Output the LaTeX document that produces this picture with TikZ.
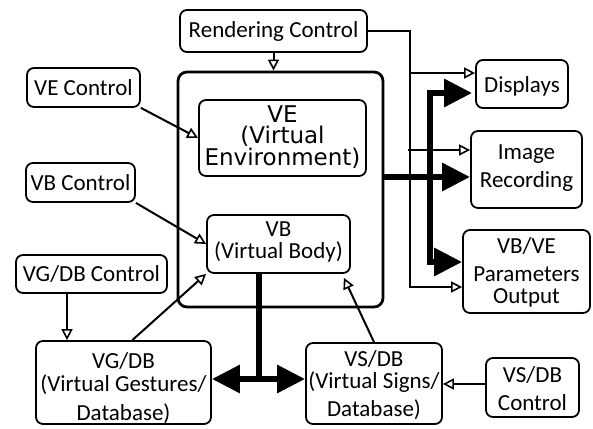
\documentclass[tikz,border=0pt]{standalone}
\usepackage{fontspec}
\setmainfont{Carlito}
\newfontfamily\vefont{DejaVu Sans}
\usetikzlibrary{arrows.meta,calc}
\begin{document}
\begin{tikzpicture}[x=1pt,y=-1pt,
  box/.style={draw, line width=1.8pt, rounded corners=7pt, inner sep=0pt},
  txt/.style={align=center, inner sep=0pt, font=\fontsize{23}{25}\selectfont},
  thinarrow/.style={line width=2pt, -{Triangle[open,length=11pt,width=11pt,line width=1.6pt]}},
  fatline/.style={line width=6pt},
  fatarrow/.style={line width=6pt, -{Triangle[length=28pt,width=27pt]}},
  fatboth/.style={line width=6pt, line join=miter, {Triangle[length=28pt,width=27pt]}-{Triangle[length=28pt,width=27pt]}},
]
\useasboundingbox (0,0) rectangle (593,428);

% boxes
\node[box, minimum width=187pt, minimum height=42pt] (rc) at (273.5,31) {};
\node[box, line width=2.8pt, rounded corners=9pt, minimum width=205pt, minimum height=235pt] (big) at (280.5,189.5) {};
\node[box, minimum width=167pt, minimum height=76pt] (ve) at (282.5,138) {};
\node[box, minimum width=143pt, minimum height=58pt] (vb) at (278.5,244) {};
\node[box, minimum width=113pt, minimum height=39pt] (vec) at (83.5,87.5) {};
\node[box, minimum width=109pt, minimum height=39pt] (vbc) at (80.5,182.5) {};
\node[box, minimum width=151pt, minimum height=38pt] (vgc) at (91.5,274) {};
\node[box, minimum width=175pt, minimum height=83pt] (vgdb) at (123.5,382.5) {};
\node[box, minimum width=136pt, minimum height=81pt] (vsdb) at (374,383.5) {};
\node[box, minimum width=93pt, minimum height=59pt] (vsc) at (532.5,387.5) {};
\node[box, minimum width=92pt, minimum height=48pt] (disp) at (522,84) {};
\node[box, minimum width=111pt, minimum height=77pt] (img) at (526.5,169.5) {};
\node[box, minimum width=127pt, minimum height=83pt] (par) at (526.5,271.5) {};

% texts
\node[txt] (rct) at (273.5,31) {Rendering Control};
\node[txt] (vect) at (83.5,87.5) {VE Control};
\node[txt] (vbct) at (80.5,182.5) {VB Control};
\node[txt] (vgct) at (91.5,274) {VG/DB Control};
\node[txt, font=\vefont\fontsize{23}{21.5}\selectfont] (vet) at (282.5,137) {VE\\(Virtual\\Environment)};
\node[txt] (vbt) at (278.5,242) {VB\\[-3pt](Virtual Body)};
\node[txt] (vgdbt) at (123.5,388) {VG/DB\\[-2pt](Virtual Gestures/\\[4pt]Database)};
\node[txt] (vsdbt) at (374,385) {VS/DB\\[-3pt](Virtual Signs/\\[3pt]Database)};
\node[txt] (vsct) at (532.5,389) {VS/DB\\[3pt]Control};
\node[txt] (dispt) at (522,86) {Displays};
\node[txt] (imgt) at (526.5,168) {Image\\[3pt]Recording};
\node[txt] (part) at (526.5,272) {VB/VE\\[3pt]Parameters\\[-3pt]Output};

% thin connectors
\draw[thinarrow] (rc.south) -- (rc.south |- big.north);
\coordinate (rv) at (410,287);
\coordinate (r1) at (410,73);
\coordinate (r2) at (408,150);
\draw[thinarrow] (rc.east) -| (rv) -- (rv -| par.west);
\draw[thinarrow] (r1) -- (r1 -| disp.west);
\draw[thinarrow] (r2) -- (r2 -| img.west);
\draw[thinarrow] (vec.south east) -- (ve.west);
\draw[thinarrow] (vbc.south east) -- (vb.west);
\draw[thinarrow] ($(vgdb.north west)!0.55!(vgdb.north east)$) -- (vb.south west);
\draw[thinarrow] (vsdb.north) -- ([shift={(-7pt,-4pt)}]vb.south east);
\coordinate (g) at (67,0);
\draw[thinarrow] (g |- vgc.south) -- (g |- vgdb.north);
\coordinate (s) at (0,384);
\draw[thinarrow] (s -| vsc.west) -- (s -| vsdb.east);

% fat connectors
\coordinate (f1) at (430,93);
\coordinate (f2) at (430,262);
\draw[fatboth] ([xshift=-3pt]f1 -| disp.west) -- (f1) -- (f2) -- (f2 -| par.west);
\coordinate (f3) at (383,177);
\draw[fatarrow] (f3 -| big.east) -- (f3 -| img.west);
\coordinate (m) at (259,382);
\draw[fatline] (m |- vb.south) -- (m);
\coordinate (m2) at (259,379);
\draw[fatboth] (m2 -| vgdb.east) -- (m2 -| vsdb.west);
\end{tikzpicture}
\end{document}
